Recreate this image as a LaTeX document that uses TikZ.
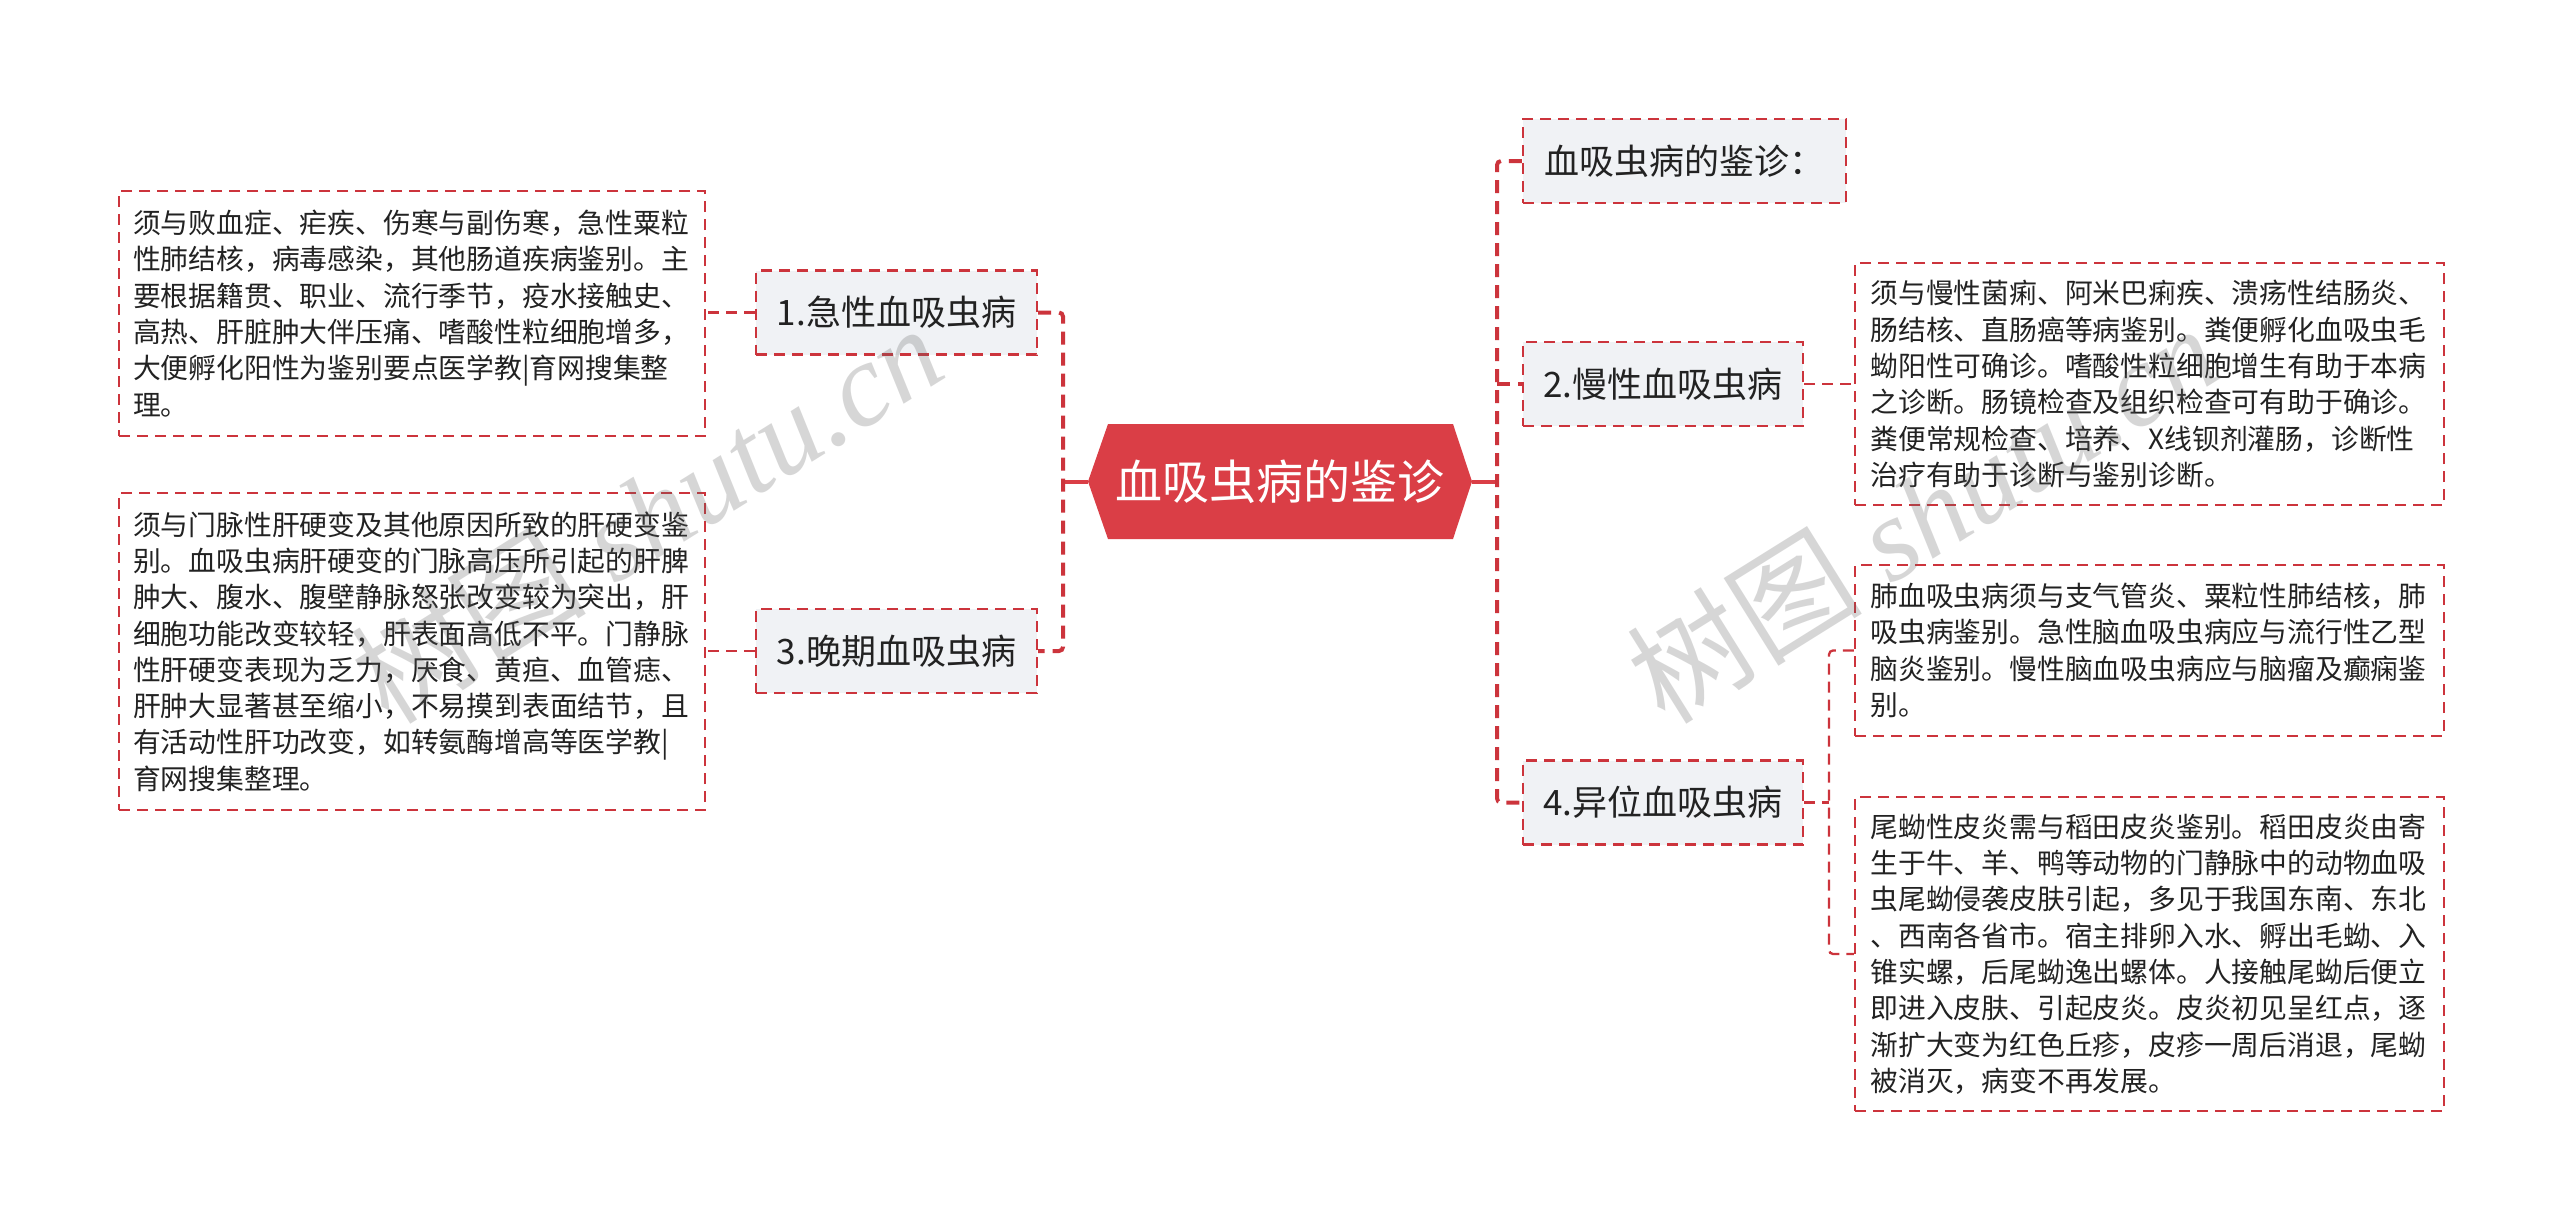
\documentclass[tikz,border=0pt]{standalone}
\usepackage{fontspec}
\setmainfont{Noto Sans CJK SC}
\newfontfamily\wmserif{Liberation Serif}
\usetikzlibrary{calc}
\definecolor{rootred}{RGB}{218,62,70}
\definecolor{linered}{RGB}{204,52,60}
\definecolor{boxfill}{RGB}{240,242,245}
\definecolor{txtc}{RGB}{34,34,34}
\definecolor{wmc}{RGB}{100,100,100}
\tikzset{
  branchbox/.style={draw=linered, line width=2.3pt, dash pattern=on 11pt off 7pt, fill=boxfill, text=txtc, font=\fontsize{35}{40}\selectfont, inner sep=0pt, minimum height=84pt},
  leafbox/.style={draw=linered, line width=2.3pt, dash pattern=on 11pt off 7pt, fill=white, text=txtc, font=\fontsize{27.8}{36.3}\selectfont, align=left, text width=558pt, inner ysep=0pt},
  trunk/.style={draw=linered, line width=4pt, dash pattern=on 13pt off 8pt, rounded corners=4pt},
  twig/.style={draw=linered, line width=2.3pt, dash pattern=on 11pt off 7pt, rounded corners=4pt},
  rootlink/.style={draw=rootred, line width=4pt},
  wmark/.style={text=wmc, opacity=0.26, inner sep=0pt, font=\fontsize{118}{118}\selectfont},
}
\begin{document}
\begin{tikzpicture}[x=1pt,y=-1pt]
\fill[white] (0,0) rectangle (2560,1231);
\useasboundingbox (0,0) rectangle (2560,1231);

% central topic
\coordinate (rc) at (1280,481.5);
\fill[rootred] ($(rc)+(-192,0)$) -- ($(rc)+(-172,-57.5)$) -- ($(rc)+(173,-57.5)$) -- ($(rc)+(192,0)$) -- ($(rc)+(173,57.5)$) -- ($(rc)+(-172,57.5)$) -- cycle;
\node[text=white, font=\fontsize{47}{50}\selectfont, minimum width=384pt, minimum height=115pt, inner sep=0pt] (root) at (rc) {血吸虫病的鉴诊};

% branches
\node[branchbox, minimum width=281pt] (b1) at (896.5,312.5) {1.急性血吸虫病};
\node[branchbox, minimum width=281pt] (b3) at (896.5,651) {3.晚期血吸虫病};
\node[branchbox, minimum width=323pt] (b0) at (1684.5,161) {血吸虫病的鉴诊：};
\node[branchbox, minimum width=280pt] (b2) at (1663,384) {2.慢性血吸虫病};
\node[branchbox, minimum width=280pt] (b4) at (1663,802.5) {4.异位血吸虫病};

% leaves
\node[leafbox, inner xsep=14pt, minimum height=245pt] (l1) at (412,313.5) {须与败血症、疟疾、伤寒与副伤寒，急性粟粒\\性肺结核，病毒感染，其他肠道疾病鉴别。主\\要根据籍贯、职业、流行季节，疫水接触史、\\高热、肝脏肿大伴压痛、嗜酸性粒细胞增多，\\大便孵化阳性为鉴别要点医学教|育网搜集整\\理。};
\node[leafbox, inner xsep=14pt, minimum height=317pt] (l3) at (412,651.5) {须与门脉性肝硬变及其他原因所致的肝硬变鉴\\别。血吸虫病肝硬变的门脉高压所引起的肝脾\\肿大、腹水、腹壁静脉怒张改变较为突出，肝\\细胞功能改变较轻，肝表面高低不平。门静脉\\性肝硬变表现为乏力，厌食、黄疸、血管痣、\\肝肿大显著甚至缩小，不易摸到表面结节，且\\有活动性肝功改变，如转氨酶增高等医学教|\\育网搜集整理。};
\node[leafbox, inner xsep=15.5pt, minimum height=242pt] (l2) at (2149.5,384) {须与慢性菌痢、阿米巴痢疾、溃疡性结肠炎、\\肠结核、直肠癌等病鉴别。粪便孵化血吸虫毛\\蚴阳性可确诊。嗜酸性粒细胞增生有助于本病\\之诊断。肠镜检查及组织检查可有助于确诊。\\粪便常规检查、培养、X线钡剂灌肠，诊断性\\治疗有助于诊断与鉴别诊断。};
\node[leafbox, inner xsep=15.5pt, minimum height=171pt] (l4a) at (2149.5,650.5) {肺血吸虫病须与支气管炎、粟粒性肺结核，肺\\吸虫病鉴别。急性脑血吸虫病应与流行性乙型\\脑炎鉴别。慢性脑血吸虫病应与脑瘤及癫痫鉴\\别。};
\node[leafbox, inner xsep=15.5pt, minimum height=314pt] (l4b) at (2149.5,954) {尾蚴性皮炎需与稻田皮炎鉴别。稻田皮炎由寄\\生于牛、羊、鸭等动物的门静脉中的动物血吸\\虫尾蚴侵袭皮肤引起，多见于我国东南、东北\\、西南各省市。宿主排卵入水、孵出毛蚴、入\\锥实螺，后尾蚴逸出螺体。人接触尾蚴后便立\\即进入皮肤、引起皮炎。皮炎初见呈红点，逐\\渐扩大变为红色丘疹，皮疹一周后消退，尾蚴\\被消灭，病变不再发展。};

% connectors
\coordinate (LT) at (1063,481.5);
\coordinate (RT) at (1497,481.5);
\coordinate (ST) at (1829,802.5);
\draw[rootlink] (root.west) -- (LT);
\draw[rootlink] (root.east) -- (RT);
\draw[trunk] (b1.east) -- (b1.east -| LT) -- (b3.east -| LT) -- (b3.east);
\draw[trunk] (b0.west) -- (b0.west -| RT) -- (b4.west -| RT) -- (b4.west);
\draw[trunk] (b2.west -| RT) -- (b2.west);
\draw[twig] (b1.west) -- (b1.west -| l1.east);
\draw[twig] (b3.west) -- (b3.west -| l3.east);
\draw[twig] (b2.east) -- (b2.east -| l2.west);
\draw[twig] (b4.east) -- (ST);
\draw[twig] (l4a.west) -- (l4a.west -| ST) -- (l4b.west -| ST) -- (l4b.west);

% watermarks
\node[wmark, rotate=32] (wm1) at (646,513) {树图{\wmserif\itshape\ shutu.cn}};
\node[wmark, rotate=32] (wm2) at (1922,513) {树图{\wmserif\itshape\ shutu.cn}};
\end{tikzpicture}
\end{document}
